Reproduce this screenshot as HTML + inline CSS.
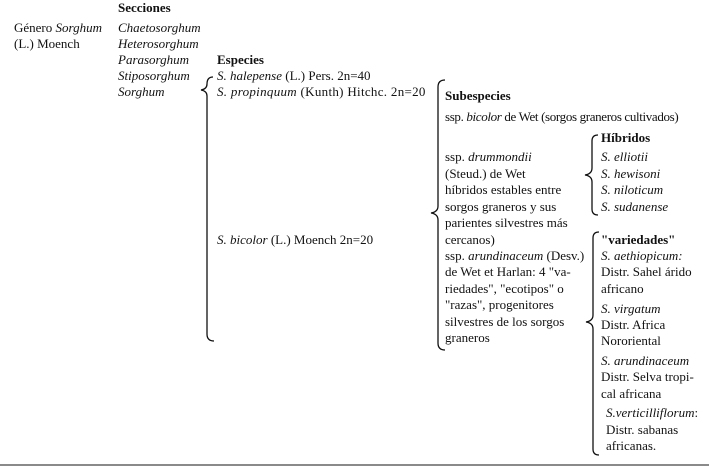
<!DOCTYPE html>
<html><head><meta charset="utf-8">
<style>
html,body{margin:0;padding:0;background:#fff;}
#c{position:relative;width:709px;height:467px;overflow:hidden;font-family:"Liberation Serif",serif;font-size:13px;color:#111;}
#c div{position:absolute;white-space:nowrap;line-height:14px;}
b{font-weight:bold;}
svg{position:absolute;left:0;top:0;}
</style></head><body>
<div id="c">
<svg width="709" height="467">
<g fill="none" stroke="#111" stroke-width="1.3">
<path d="M213,77 Q207,77 207,84 L207,84 Q207,89 201,90 Q207,91 207,96 L207,334 Q207,341 214,341"/>
<path d="M445,80 Q438,80 438,87 L438,206 Q438,212 431,213 Q438,214 438,220 L438,343 Q438,350 445,350"/>
<path d="M598,135 Q592,135 592,141 L592,168 Q592,174 585,175 Q592,176 592,182 L592,209 Q592,215 598,215"/>
<path d="M599,232 Q593,232 593,238 L593,315 Q593,321 586,322 Q593,323 593,329 L593,449 Q593,455 599,455"/>
</g>
<rect x="0" y="464" width="709" height="2" fill="#8a8a8a"/>
</svg>
<div style="left:118px;top:1px"><b>Secciones</b></div>
<div style="left:14px;top:21px">Género <i>Sorghum</i></div>
<div style="left:14px;top:37px">(L.) Moench</div>
<div style="left:118px;top:21px"><i>Chaetosorghum</i></div>
<div style="left:118px;top:37px"><i>Heterosorghum</i></div>
<div style="left:118px;top:53px"><i>Parasorghum</i></div>
<div style="left:118px;top:69px"><i>Stiposorghum</i></div>
<div style="left:118px;top:85px"><i>Sorghum</i></div>
<div style="left:217px;top:53px"><b>Especies</b></div>
<div style="left:217px;top:69px"><i>S. halepense</i> (L.) Pers. 2n=40</div>
<div style="left:217px;top:85px;letter-spacing:0.3px"><i>S. propinquum</i> (Kunth) Hitchc. 2n=20</div>
<div style="left:217px;top:233px"><i>S. bicolor</i> (L.) Moench 2n=20</div>
<div style="left:445px;top:89px"><b>Subespecies</b></div>
<div style="left:445px;top:110px;letter-spacing:-0.35px">ssp. <i>bicolor</i> de Wet (sorgos graneros cultivados)</div>
<div style="left:445px;top:150px">ssp. <i>drummondii</i></div>
<div style="left:445px;top:167px">(Steud.) de Wet</div>
<div style="left:445px;top:183px">híbridos estables entre</div>
<div style="left:445px;top:200px">sorgos graneros y sus</div>
<div style="left:445px;top:216px">parientes silvestres más</div>
<div style="left:445px;top:233px">cercanos)</div>
<div style="left:445px;top:249px">ssp. <i>arundinaceum</i> (Desv.)</div>
<div style="left:445px;top:265px">de Wet et Harlan: 4 "va-</div>
<div style="left:445px;top:282px">riedades", "ecotipos" o</div>
<div style="left:445px;top:298px">"razas", progenitores</div>
<div style="left:445px;top:315px">silvestres de los sorgos</div>
<div style="left:445px;top:331px">graneros</div>
<div style="left:601px;top:131px"><b>Híbridos</b></div>
<div style="left:601px;top:150px"><i>S. elliotii</i></div>
<div style="left:601px;top:167px"><i>S. hewisoni</i></div>
<div style="left:601px;top:183px"><i>S. niloticum</i></div>
<div style="left:601px;top:200px"><i>S. sudanense</i></div>
<div style="left:601px;top:233px"><b>"variedades"</b></div>
<div style="left:601px;top:249px"><i>S. aethiopicum:</i></div>
<div style="left:601px;top:265px">Distr. Sahel árido</div>
<div style="left:601px;top:282px">africano</div>
<div style="left:601px;top:302px"><i>S. virgatum</i></div>
<div style="left:601px;top:318px">Distr. Africa</div>
<div style="left:601px;top:334px">Nororiental</div>
<div style="left:601px;top:354px"><i>S. arundinaceum</i></div>
<div style="left:601px;top:370px">Distr. Selva tropi-</div>
<div style="left:601px;top:387px">cal africana</div>
<div style="left:606px;top:406px"><i>S.verticilliflorum</i>:</div>
<div style="left:606px;top:423px">Distr. sabanas</div>
<div style="left:606px;top:439px">africanas.</div>
</div>
</body></html>
